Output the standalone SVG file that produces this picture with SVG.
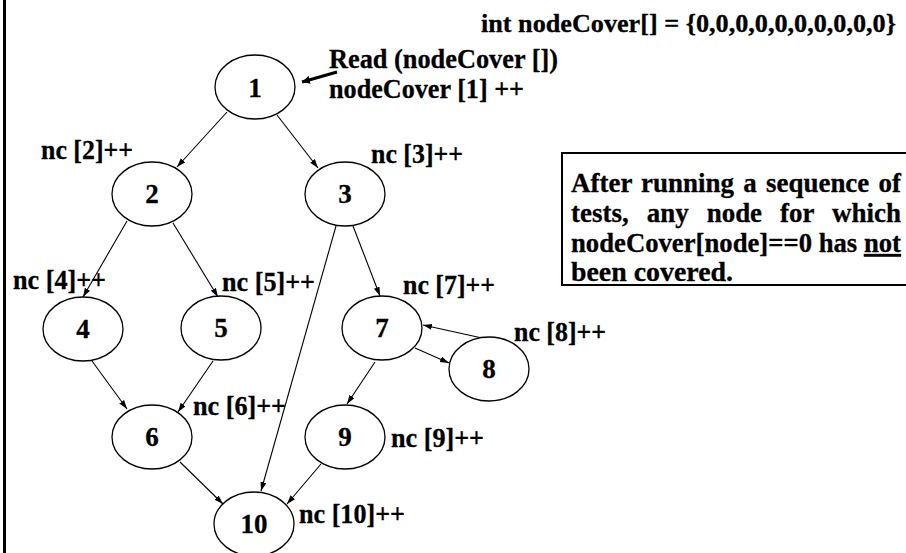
<svg xmlns="http://www.w3.org/2000/svg" width="906" height="553" viewBox="0 0 906 553">
  <style>
    text { font-family: "Liberation Serif", "Times New Roman", serif; font-weight: bold; font-size: 27px; fill: #000; stroke: #000; stroke-width: 0.3; }
    .node ellipse { fill: #fff; stroke: #000; stroke-width: 1.3; }
    .node text { text-anchor: middle; }
    .edge { stroke: #000; stroke-width: 1.1; fill: none; marker-end: url(#arrow); }
  </style>
  <defs>
    <marker id="arrow" markerUnits="userSpaceOnUse" markerWidth="10" markerHeight="7" refX="9" refY="3" orient="auto">
      <path d="M0,0 L9,3 L0,6 z" fill="#000"/>
    </marker>
    <marker id="arrowBold" markerUnits="userSpaceOnUse" markerWidth="10" markerHeight="8" refX="8" refY="4" orient="auto">
      <path d="M0,0 L8,4 L0,8 z" fill="#000"/>
    </marker>
  </defs>

  <rect width="906" height="553" fill="#fff"/>
  <!-- left frame edge -->
  <line x1="4.5" y1="0" x2="4.5" y2="553" stroke="#000" stroke-width="3"/>

  <!-- initialisation and annotations -->
  <text x="481" y="32" style="font-size:26px" textLength="415" lengthAdjust="spacingAndGlyphs">int nodeCover[] = {0,0,0,0,0,0,0,0,0,0}</text>
  <text x="329" y="68" textLength="229" lengthAdjust="spacingAndGlyphs">Read (nodeCover [])</text>
  <text x="329" y="98" textLength="195" lengthAdjust="spacingAndGlyphs">nodeCover [1] ++</text>
  <line x1="337" y1="72" x2="302" y2="82" stroke="#000" stroke-width="3" marker-end="url(#arrowBold)"/>

  <!-- explanation box -->
  <g id="note">
    <rect x="562" y="153" width="360" height="132" fill="#fff" stroke="#000" stroke-width="2"/>
    <text x="571" y="192" word-spacing="2.5" textLength="330" lengthAdjust="spacingAndGlyphs">After running a sequence of</text>
    <text x="571" y="222" word-spacing="11.3" textLength="330" lengthAdjust="spacingAndGlyphs">tests, any node for which</text>
    <text x="571" y="252" textLength="330" lengthAdjust="spacingAndGlyphs">nodeCover[node]==0 has <tspan text-decoration="underline">not</tspan></text>
    <text x="571" y="281" textLength="162" lengthAdjust="spacingAndGlyphs">been covered.</text>
  </g>

  <!-- connectors -->
  <g id="edges">
    <line class="edge" x1="227" y1="112" x2="177" y2="167"/>
    <line class="edge" x1="277" y1="115" x2="318" y2="168"/>
    <line class="edge" x1="127" y1="221" x2="83" y2="297"/>
    <line class="edge" x1="173" y1="223" x2="218" y2="297"/>
    <line class="edge" x1="353" y1="226" x2="380" y2="296"/>
    <line class="edge" x1="336" y1="226" x2="261" y2="491"/>
    <line class="edge" x1="415" y1="348" x2="449" y2="363"/>
    <line class="edge" x1="482" y1="338" x2="423" y2="325"/>
    <line class="edge" x1="375" y1="362" x2="347" y2="404"/>
    <line class="edge" x1="92" y1="361" x2="127" y2="409"/>
    <line class="edge" x1="213" y1="361" x2="178" y2="412"/>
    <line class="edge" x1="180" y1="462" x2="223" y2="504"/>
    <line class="edge" x1="321" y1="464" x2="287" y2="504"/>
  </g>

  <!-- nodes -->
  <g id="n1" class="node"><ellipse cx="255" cy="87" rx="40" ry="32"/><text x="255" y="97">1</text></g>
  <g id="n2" class="node"><ellipse cx="152" cy="194" rx="40" ry="32"/><text x="152" y="203">2</text></g>
  <g id="n3" class="node"><ellipse cx="345" cy="194" rx="40" ry="32"/><text x="345" y="203">3</text></g>
  <g id="n4" class="node"><ellipse cx="83" cy="329" rx="40" ry="32"/><text x="83" y="338">4</text></g>
  <g id="n5" class="node"><ellipse cx="221" cy="328" rx="40" ry="32"/><text x="221" y="337">5</text></g>
  <g id="n7" class="node"><ellipse cx="382" cy="328" rx="40" ry="32"/><text x="382" y="337">7</text></g>
  <g id="n8" class="node"><ellipse cx="489" cy="369" rx="40" ry="32"/><text x="489" y="378">8</text></g>
  <g id="n6" class="node"><ellipse cx="152" cy="437" rx="40" ry="32"/><text x="152" y="446">6</text></g>
  <g id="n9" class="node"><ellipse cx="345" cy="437" rx="40" ry="32"/><text x="345" y="446">9</text></g>
  <g id="n10" class="node"><ellipse cx="254" cy="524" rx="40" ry="32"/><text x="254" y="533">10</text></g>

  <!-- counter labels -->
  <g id="labels">
    <text x="41" y="159" textLength="92" lengthAdjust="spacingAndGlyphs">nc [2]++</text>
    <text x="371" y="163" textLength="92" lengthAdjust="spacingAndGlyphs">nc [3]++</text>
    <text x="13" y="289" textLength="93" lengthAdjust="spacingAndGlyphs">nc [4]++</text>
    <text x="222" y="291" textLength="93" lengthAdjust="spacingAndGlyphs">nc [5]++</text>
    <text x="403" y="294" textLength="92" lengthAdjust="spacingAndGlyphs">nc [7]++</text>
    <text x="514" y="341" textLength="92" lengthAdjust="spacingAndGlyphs">nc [8]++</text>
    <text x="193" y="415" textLength="93" lengthAdjust="spacingAndGlyphs">nc [6]++</text>
    <text x="391" y="447" textLength="93" lengthAdjust="spacingAndGlyphs">nc [9]++</text>
    <text x="299" y="523" textLength="106" lengthAdjust="spacingAndGlyphs">nc [10]++</text>
  </g>
</svg>
